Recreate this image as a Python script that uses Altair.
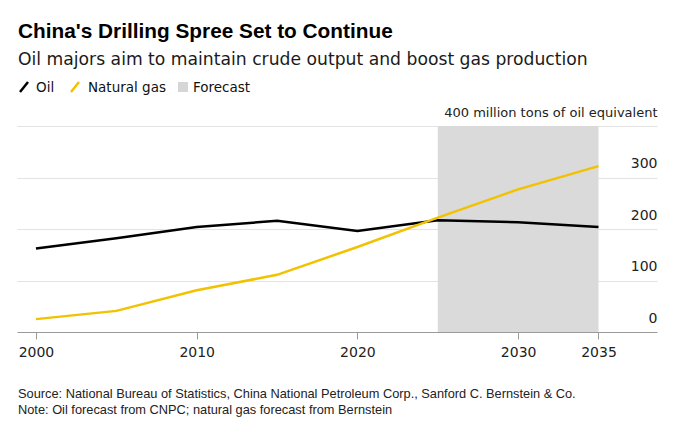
import altair as alt
import pandas as pd

# ---- data ----
years = [2000, 2005, 2010, 2015, 2020, 2025, 2030, 2035]
oil = [162, 182, 204, 216, 196, 217, 213, 204]
gas = [25, 41, 81, 111, 165, 222, 277, 322]
series_names = ["Oil", "Natural gas"]
series_colors = ["#000000", "#f2c200"]
forecast_start = [2025]
forecast_end = [2035]
y_ticks = [0, 100, 200, 300, 400]
x_ticks = [2000, 2010, 2020, 2030, 2035]

title = "China's Drilling Spree Set to Continue"
subtitle = "Oil majors aim to maintain crude output and boost gas production"
unit_label = "400 million tons of oil equivalent"
source = "Source: National Bureau of Statistics, China National Petroleum Corp., Sanford C. Bernstein & Co."
note = "Note: Oil forecast from CNPC; natural gas forecast from Bernstein"
legend_labels = ["Oil", "Natural gas", "Forecast"]

FONT = "Liberation Sans"
WIDE = "DejaVu Sans"
W, H = 640, 206

df = pd.DataFrame({
    "year": years * 2,
    "value": oil + gas,
    "series": [series_names[0]] * len(years) + [series_names[1]] * len(years),
})
band = pd.DataFrame({"start": forecast_start, "end": forecast_end,
                     "lo": [y_ticks[0]], "hi": [y_ticks[-1]]})

xscale = alt.Scale(domain=[1998.82, 2038.64], nice=False, zero=False)
yscale = alt.Scale(domain=[0, 400], nice=False)

x_axis = alt.Axis(values=x_ticks, format="d", title=None, grid=False,
                  domainColor="#9a9a9a", tickColor="#9a9a9a", tickSize=7,
                  labelFontSize=14, labelFont=WIDE, labelColor="#222",
                  labelPadding=6, labelFlush=False)
y_axis = alt.Axis(values=y_ticks, orient="right", title=None, domain=False,
                  ticks=False, tickSize=0, grid=True, gridColor="#e3e3e3",
                  labelAlign="right", labelBaseline="alphabetic", labelPadding=0,
                  labelOffset=-10,
                  labelFontSize={"condition": {"test": "datum.value == 400", "value": 13}, "value": 14},
                  labelFont=WIDE,
                  labelColor="#222", labelOverlap=False, labelFlush=False,
                  labelLimit=0,
                  labelExpr=f"datum.value == 400 ? '{unit_label}' : datum.label")

forecast = alt.Chart(band).mark_rect(color="#dadada").encode(
    x=alt.X("start:Q", scale=xscale, axis=x_axis),
    x2="end:Q",
    y=alt.Y("lo:Q", scale=yscale, axis=y_axis),
    y2="hi:Q",
)

lines = alt.Chart(df).mark_line(strokeWidth=2.5).encode(
    x=alt.X("year:Q", scale=xscale),
    y=alt.Y("value:Q", scale=yscale),
    color=alt.Color("series:N", scale=alt.Scale(domain=series_names, range=series_colors), legend=None),
    order=alt.Order("year:Q"),
)


def text_layer(txt, x, y, size, weight="normal", color="#111", font=FONT):
    return alt.Chart(pd.DataFrame({"t": [txt]})).mark_text(
        align="left", baseline="alphabetic", font=font, fontSize=size,
        fontWeight=weight, color=color
    ).encode(x=alt.value(x), y=alt.value(y), text="t:N")


def slash(x1, x2, y1, y2, color):
    return alt.Chart(pd.DataFrame({"a": [0]})).mark_rule(color=color, strokeWidth=2.5).encode(
        x=alt.value(x1), x2=alt.value(x2), y=alt.value(y1), y2=alt.value(y2))


legend_sq = alt.Chart(pd.DataFrame({"a": [0]})).mark_rect(color="#d6d6d6").encode(
    x=alt.value(161), x2=alt.value(171), y=alt.value(-44), y2=alt.value(-34))

layers = [
    forecast,
    lines,
    text_layer(title, 1, -88, 20.8, "bold", "#000"),
    text_layer(subtitle, 1, -61, 17.2, "normal", "#1a1a1a", WIDE),
    slash(3, 11, -34, -44, series_colors[0]),
    text_layer(legend_labels[0], 19, -34, 13.5, font=WIDE),
    slash(54, 62, -34, -44, series_colors[1]),
    text_layer(legend_labels[1], 71, -34, 13.5, font=WIDE),
    legend_sq,
    text_layer(legend_labels[2], 176, -34, 13.5, font=WIDE),
    text_layer(source, 1, 272, 12.8, "normal", "#222"),
    text_layer(note, 1, 288, 12.8, "normal", "#222"),
]

chart = alt.layer(*layers).properties(
    width=W, height=H,
    autosize=alt.AutoSizeParams(type="none"),
    padding={"left": 9, "top": 118, "right": 5, "bottom": 86},
    background="#ffffff",
).configure_view(stroke=None)

chart.save("out.html", embed_options={"renderer": "svg", "actions": False})
